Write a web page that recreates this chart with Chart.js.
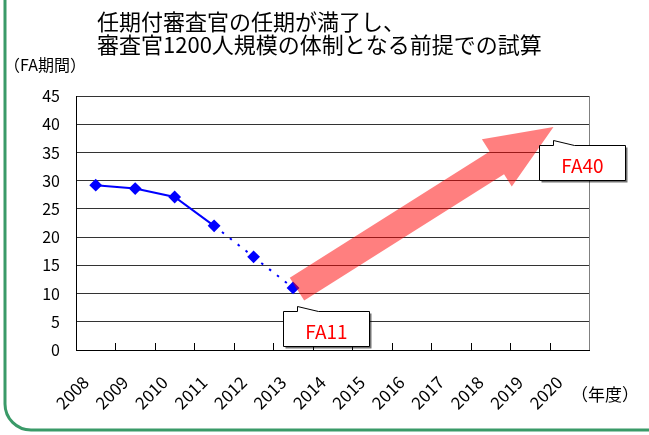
<!DOCTYPE html>
<html>
<head>
<meta charset="utf-8">
<script src="https://cdn.jsdelivr.net/npm/chart.js@4.4.1/dist/chart.umd.min.js"></script>
<style>
  body { margin: 0; background: #fff; }
  #wrap { width: 649px; height: 435px; position: relative; }
</style>
</head>
<body>
<div id="wrap"><canvas id="myChart" width="649" height="435"></canvas></div>
<script>
// data
const years = ['2008','2009','2010','2011','2012','2013','2014','2015','2016','2017','2018','2019','2020'];
const faValues = [29.2, 28.6, 27.1, 22.0, 16.5, 11.0, null, null, null, null, null, null, null];
const yMin = 0, yMax = 45, yStep = 5;
const titleLines = ['任期付審査官の任期が満了し、', '審査官1200人規模の体制となる前提での試算'];
const yTitle = '（FA期間）';
const xTitle = '（年度）';
// arrow, in [category index, value]
const arrowFrom = [5.1, 10.8];
const arrowTo = [11.6, 39.5];
const callouts = [
  { text: 'FA11', x: 5.83, y: 3.8 },
  { text: 'FA40', x: 12.32, y: 33.3 }
];

const JP = "'Noto Sans CJK JP', 'Noto Sans', sans-serif";

function drawArrow(ctx, x0, y0, x1, y1) {
  const dx = x1 - x0, dy = y1 - y0;
  const len = Math.hypot(dx, dy);
  const ux = dx / len, uy = dy / len;
  const nx = -uy, ny = ux;
  const sw = 13.5, hw = 28, hl = 67;
  const bx = x1 - ux * hl, by = y1 - uy * hl;
  ctx.beginPath();
  ctx.moveTo(x0 + nx * sw, y0 + ny * sw);
  ctx.lineTo(bx + nx * sw, by + ny * sw);
  ctx.lineTo(bx + nx * hw, by + ny * hw);
  ctx.lineTo(x1, y1);
  ctx.lineTo(bx - nx * hw, by - ny * hw);
  ctx.lineTo(bx - nx * sw, by - ny * sw);
  ctx.lineTo(x0 - nx * sw, y0 - ny * sw);
  ctx.closePath();
  ctx.fillStyle = 'rgba(255,0,0,0.5)';
  ctx.fill();
}

function drawCallout(ctx, cx, cy, text) {
  const w = 86, h = 35;
  const l = Math.round(cx - w / 2) + 0.5, t = Math.round(cy - h / 2) + 0.5;
  ctx.beginPath();
  ctx.moveTo(l, t);
  ctx.lineTo(l + 14, t);
  ctx.lineTo(l + 14, t - 5);
  ctx.lineTo(l + 35, t);
  ctx.lineTo(l + w, t);
  ctx.lineTo(l + w, t + h);
  ctx.lineTo(l, t + h);
  ctx.closePath();
  ctx.save();
  ctx.shadowColor = 'rgba(0,0,0,0.55)';
  ctx.shadowOffsetX = 2;
  ctx.shadowOffsetY = 2;
  ctx.shadowBlur = 0;
  ctx.fillStyle = '#fff';
  ctx.fill();
  ctx.restore();
  ctx.strokeStyle = '#000';
  ctx.lineWidth = 1;
  ctx.stroke();
  ctx.fillStyle = '#ff0000';
  ctx.font = '19px ' + JP;
  ctx.textAlign = 'center';
  ctx.textBaseline = 'middle';
  ctx.fillText(text, l + w / 2, t + h / 2 + 3);
}

const extras = {
  id: 'extras',
  beforeDraw(chart) {
    const ctx = chart.ctx;
    ctx.save();
    ctx.fillStyle = '#fff';
    ctx.fillRect(0, 0, chart.width, chart.height);
    ctx.restore();
  },
  afterDatasetsDraw(chart) {
    const ctx = chart.ctx;
    const xs = chart.scales.x, ys = chart.scales.y;
    const area = chart.chartArea;
    ctx.save();
    // right border
    ctx.strokeStyle = '#808080';
    ctx.lineWidth = 1;
    ctx.beginPath();
    ctx.moveTo(Math.round(area.right) + 0.5, area.top);
    ctx.lineTo(Math.round(area.right) + 0.5, area.bottom);
    ctx.stroke();
    // inward tick marks at category boundaries
    ctx.strokeStyle = '#000';
    ctx.beginPath();
    for (let i = 1; i < years.length; i++) {
      const x = Math.round(xs.getPixelForValue(i - 0.5)) + 0.5;
      ctx.moveTo(x, area.bottom);
      ctx.lineTo(x, area.bottom - 7);
    }
    ctx.stroke();
    // arrow
    drawArrow(ctx,
      xs.getPixelForValue(arrowFrom[0]), ys.getPixelForValue(arrowFrom[1]),
      xs.getPixelForValue(arrowTo[0]), ys.getPixelForValue(arrowTo[1]));
    // callouts
    callouts.forEach(c => drawCallout(ctx, xs.getPixelForValue(c.x), ys.getPixelForValue(c.y), c.text));
    ctx.restore();
  },
  afterDraw(chart) {
    const ctx = chart.ctx;
    ctx.save();
    ctx.fillStyle = '#000';
    ctx.textBaseline = 'middle';
    ctx.textAlign = 'left';
    ctx.font = '22px ' + JP;
    ctx.fillText(titleLines[0], 97, 22);
    ctx.fillText(titleLines[1], 97, 45);
    ctx.font = '16px ' + JP;
    ctx.fillText(yTitle, 4, 65);
    ctx.font = '17px ' + JP;
    ctx.fillText(xTitle, 571, 395);
    // green frame
    ctx.strokeStyle = '#3a9a68';
    ctx.lineWidth = 3;
    ctx.beginPath();
    ctx.roundRect(5, -40, 680, 470, 26);
    ctx.stroke();
    ctx.restore();
  }
};

const data = {
  labels: years,
  datasets: [{
    data: faValues,
    borderColor: '#0000ff',
    backgroundColor: '#0000ff',
    borderWidth: 2,
    pointStyle: 'rectRot',
    pointRadius: 5,
    pointBackgroundColor: '#0000ff',
    pointBorderColor: '#0000ff',
    segment: {
      borderDash: ctx => ctx.p0DataIndex >= 3 ? [2.5, 7.5] : undefined
    },
    spanGaps: false
  }]
};

const config = {
  type: 'line',
  data: data,
  options: {
    responsive: false,
    animation: false,
    layout: { padding: { left: 0, top: 96, right: 60, bottom: 0 } },
    plugins: { legend: { display: false }, tooltip: { enabled: false } },
    scales: {
      x: {
        offset: true,
        grid: { display: false, drawTicks: false },
        border: { color: '#000', width: 1 },
        ticks: {
          color: '#000',
          font: { family: JP, size: 17 },
          minRotation: 45,
          maxRotation: 45,
          padding: 22,
          labelOffset: -10,
          autoSkip: false
        },
        afterFit: s => { s.height = 85; }
      },
      y: {
        min: yMin,
        max: yMax,
        grid: { color: '#333', drawTicks: false, lineWidth: 1 },
        border: { color: '#000', width: 1 },
        ticks: {
          stepSize: yStep,
          color: '#000',
          font: { family: JP, size: 16 },
          padding: 16
        },
        afterFit: s => { s.width = 76; }
      }
    }
  },
  plugins: [extras]
};

const myChart = new Chart(document.getElementById('myChart'), config);
</script>
</body>
</html>
